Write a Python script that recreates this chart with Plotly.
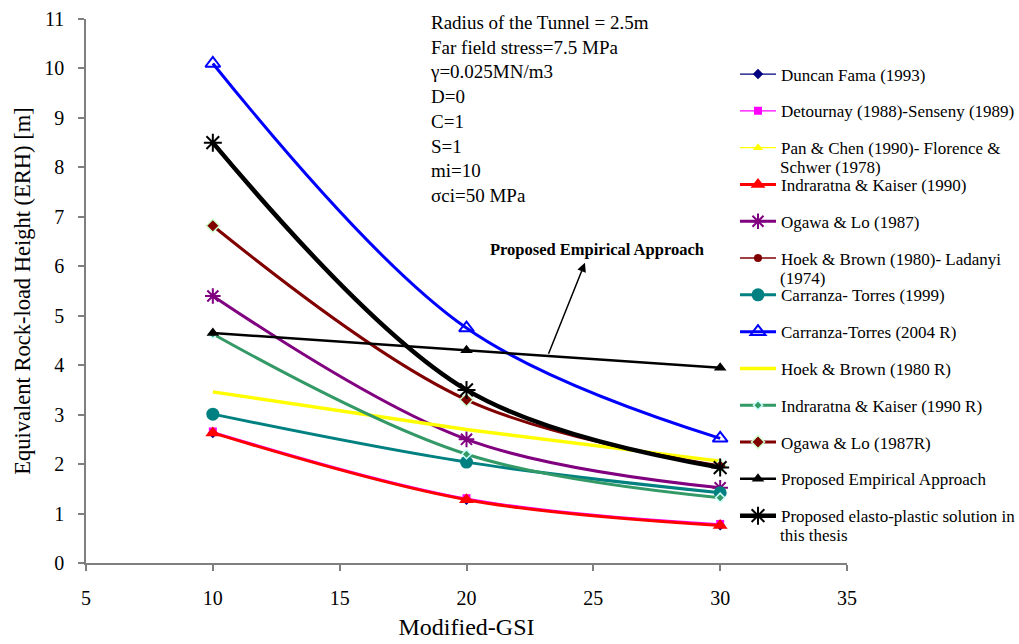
import plotly.graph_objects as go

# Modified-GSI values where each method was evaluated
gsi = [10, 20, 30]

# Equivalent rock-load height (m) for each method
duncan_fama = [2.63, 1.28, 0.76]
detournay_senseny = [2.66, 1.31, 0.79]
pan_chen = [2.63, 1.28, 0.76]
indraratna_kaiser = [2.63, 1.28, 0.76]
ogawa_lo = [5.40, 2.50, 1.52]
hoek_brown_ladanyi = [6.82, 3.30, 1.96]
carranza_1999 = [3.01, 2.04, 1.42]
carranza_2004r = [10.10, 4.75, 2.52]
hoek_brown_r = [3.46, 2.70, 2.06]
indraratna_kaiser_r = [4.63, 2.20, 1.32]
ogawa_lo_r = [6.82, 3.30, 1.96]
proposed_empirical = [4.65, 4.30, 3.95]
proposed_elasto_plastic = [8.50, 3.50, 1.93]

# Legend labels (second lines of wrapped labels are drawn separately)
labels = [
    "Duncan Fama (1993)",
    "Detournay (1988)-Senseny (1989)",
    "Pan & Chen (1990)- Florence &",
    "Indraratna & Kaiser (1990)",
    "Ogawa & Lo (1987)",
    "Hoek & Brown (1980)- Ladanyi",
    "Carranza- Torres (1999)",
    "Carranza-Torres (2004 R)",
    "Hoek & Brown (1980 R)",
    "Indraratna & Kaiser (1990 R)",
    "Ogawa & Lo (1987R)",
    "Proposed Empirical Approach",
    "Proposed elasto-plastic solution in",
]
label_tails = {2: "Schwer (1978)", 5: "(1974)", 12: "this thesis"}

parameters = [
    "Radius of the Tunnel = 2.5m",
    "Far field stress=7.5 MPa",
    "γ=0.025MN/m3",
    "D=0",
    "C=1",
    "S=1",
    "mi=10",
    "σci=50 MPa",
]

FONT = "Liberation Serif"
W, H = 1019, 644
ML, MR, MT, MB = 86, 172, 19, 81
PW, PH = W - ML - MR, H - MT - MB

series = [
    (duncan_fama, dict(color="#000080", width=1.2), dict(symbol="diamond", size=8, color="#000080"), "spline"),
    (detournay_senseny, dict(color="#FF00FF", width=1.2), dict(symbol="square", size=8, color="#FF00FF"), "spline"),
    (pan_chen, dict(color="#FFFF00", width=1.2), dict(symbol="triangle-up", size=9, color="#FFFF00"), "spline"),
    (indraratna_kaiser, dict(color="#FF0000", width=3), dict(symbol="triangle-up", size=13, color="#FF0000"), "spline"),
    (ogawa_lo, dict(color="#800080", width=3),
     dict(symbol="asterisk-open", size=13, color="#800080", line=dict(color="#800080", width=2)), "spline"),
    (hoek_brown_ladanyi, dict(color="#800000", width=1.5), dict(symbol="circle", size=8, color="#800000"), "spline"),
    (carranza_1999, dict(color="#008080", width=3), dict(symbol="circle", size=13, color="#008080"), "spline"),
    (carranza_2004r, dict(color="#0000FF", width=3),
     dict(symbol="triangle-up-open", size=13, color="#0000FF", line=dict(color="#0000FF", width=2)), "spline"),
    (hoek_brown_r, dict(color="#FFFF00", width=3.5), None, "linear"),
    (indraratna_kaiser_r, dict(color="#339966", width=3),
     dict(symbol="diamond", size=7, color="#339966", line=dict(color="#CCFFFF", width=1.5)), "spline"),
    (ogawa_lo_r, dict(color="#800000", width=3),
     dict(symbol="diamond", size=10, color="#800000", line=dict(color="#CCFFCC", width=1.5)), "spline"),
    (proposed_empirical, dict(color="#000000", width=2.5), dict(symbol="triangle-up", size=11, color="#000000"), "linear"),
    (proposed_elasto_plastic, dict(color="#000000", width=4.5),
     dict(symbol="asterisk-open", size=15, color="#000000", line=dict(color="#000000", width=2)), "spline"),
]

fig = go.Figure()
for i, (vals, line, marker, shape) in enumerate(series):
    fig.add_trace(go.Scatter(
        x=gsi, y=vals, name=labels[i], legendgroup=f"g{i}",
        mode="lines+markers" if marker else "lines",
        line=dict(shape=shape, smoothing=1.0, **line),
        marker=marker,
    ))

# Parameter block
fig.add_annotation(
    xref="paper", yref="paper", x=(428 - ML) / PW, y=(H - MB - 10) / PH, xanchor="left", yanchor="top",
    text="<br>".join(parameters), align="left", showarrow=False,
    font=dict(family=FONT, size=19, color="black"),
)

# Callout for the proposed empirical approach
fig.add_annotation(
    x=25.14, y=6.33, text="<b>Proposed Empirical Approach</b>", showarrow=False,
    font=dict(family=FONT, size=16.5, color="black"),
)
fig.add_annotation(
    x=24.67, y=6.07, ax=23.21, ay=4.20, axref="x", ayref="y", text="",
    showarrow=True, arrowhead=2, arrowsize=1.2, arrowwidth=1.5, arrowcolor="black",
)

# Continuation lines of wrapped legend labels
first_item_px = 76
item_step = 36.83
for idx, tail in label_tails.items():
    py = first_item_px + idx * item_step + 18
    fig.add_annotation(
        xref="paper", yref="paper", x=(778 - ML) / PW, y=(H - MB - py) / PH,
        xanchor="left", yanchor="middle", text=tail, showarrow=False,
        font=dict(family=FONT, size=17, color="black"),
    )

axis_common = dict(
    showline=True, linecolor="#7f7f7f", linewidth=1.5, ticks="outside", ticklen=6,
    tickcolor="#7f7f7f", tickwidth=1.5, showgrid=False, zeroline=False, mirror=False,
    tickfont=dict(family=FONT, size=20, color="black"), automargin=False,
)

fig.update_layout(
    width=W, height=H,
    margin=dict(l=ML, r=MR, t=MT, b=MB, autoexpand=False),
    plot_bgcolor="white", paper_bgcolor="white",
    font=dict(family=FONT, color="black"),
    xaxis=dict(range=[5, 35], dtick=5, tick0=5, ticklabelstandoff=10,
               title=dict(text="Modified-GSI", font=dict(family=FONT, size=24), standoff=10),
               **axis_common),
    yaxis=dict(range=[0, 11], dtick=1, tick0=0, ticklabelstandoff=10,
               title=dict(text="Equivalent Rock-load Height (ERH) [m]", font=dict(family=FONT, size=22.5), standoff=7),
               **axis_common),
    legend=dict(
        x=(735 - ML) / PW, xanchor="left", y=(H - MB - 56.5) / PH, yanchor="top",
        font=dict(family=FONT, size=17, color="black"), bgcolor="rgba(0,0,0,0)",
        tracegroupgap=11.7, itemwidth=36,
    ),
    showlegend=True,
)

fig.write_html("out.html")
